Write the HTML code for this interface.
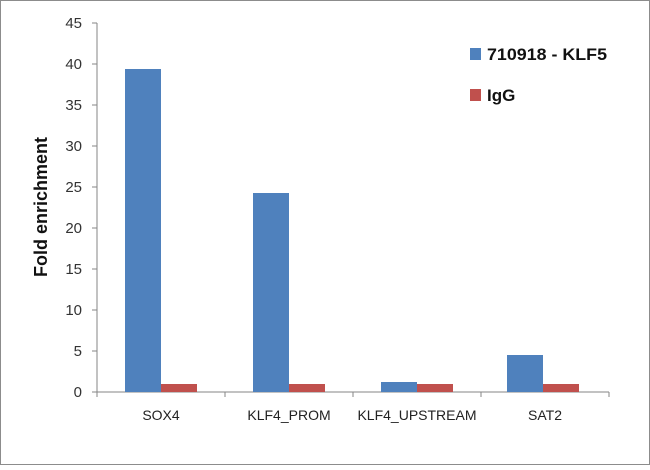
<!DOCTYPE html>
<html><head><style>body{margin:0;background:#fff}</style></head><body>
<svg width="650" height="465" xmlns="http://www.w3.org/2000/svg" font-family="Liberation Sans, sans-serif">
<rect x="0.5" y="0.5" width="649" height="464" fill="#fff" stroke="#8c8c8c" stroke-width="1"/>
<g stroke="#868686" stroke-width="1">
<line x1="97" y1="23" x2="97" y2="392"/>
<line x1="97" y1="392" x2="609" y2="392"/>
<line x1="92" y1="23" x2="97" y2="23"/><line x1="92" y1="64" x2="97" y2="64"/><line x1="92" y1="105" x2="97" y2="105"/><line x1="92" y1="146" x2="97" y2="146"/><line x1="92" y1="187" x2="97" y2="187"/><line x1="92" y1="228" x2="97" y2="228"/><line x1="92" y1="269" x2="97" y2="269"/><line x1="92" y1="310" x2="97" y2="310"/><line x1="92" y1="351" x2="97" y2="351"/><line x1="92" y1="392" x2="97" y2="392"/>
<line x1="97" y1="392" x2="97" y2="397"/><line x1="225" y1="392" x2="225" y2="397"/><line x1="353" y1="392" x2="353" y2="397"/><line x1="481" y1="392" x2="481" y2="397"/><line x1="609" y1="392" x2="609" y2="397"/>
</g>
<g font-size="15" fill="#333" text-anchor="end">
<text x="82" y="28">45</text><text x="82" y="69">40</text><text x="82" y="110">35</text><text x="82" y="151">30</text><text x="82" y="192">25</text><text x="82" y="233">20</text><text x="82" y="274">15</text><text x="82" y="315">10</text><text x="82" y="356">5</text><text x="82" y="397">0</text>
</g>
<g fill="#4f81bd">
<rect x="125" y="69" width="36" height="323"/>
<rect x="253" y="193" width="36" height="199"/>
<rect x="381" y="382" width="36" height="10"/>
<rect x="507" y="355" width="36" height="37"/>
</g>
<g fill="#c0504d">
<rect x="161" y="384" width="36" height="8"/>
<rect x="289" y="384" width="36" height="8"/>
<rect x="417" y="384" width="36" height="8"/>
<rect x="543" y="384" width="36" height="8"/>
</g>
<g font-size="14" fill="#222" text-anchor="middle">
<text x="161" y="420">SOX4</text><text x="289" y="420">KLF4_PROM</text><text x="417" y="420">KLF4_UPSTREAM</text><text x="545" y="420">SAT2</text>
</g>
<text transform="translate(47,207) rotate(-90)" font-size="18" font-weight="bold" text-anchor="middle" fill="#111">Fold enrichment</text>
<rect x="470" y="48" width="11" height="12" fill="#4f81bd"/>
<text x="487" y="60" font-size="17" font-weight="bold" fill="#111" textLength="120" lengthAdjust="spacingAndGlyphs">710918 - KLF5</text>
<rect x="470" y="89" width="11" height="12" fill="#c0504d"/>
<text x="487" y="101" font-size="17" font-weight="bold" fill="#111">IgG</text>
</svg>
</body></html>
